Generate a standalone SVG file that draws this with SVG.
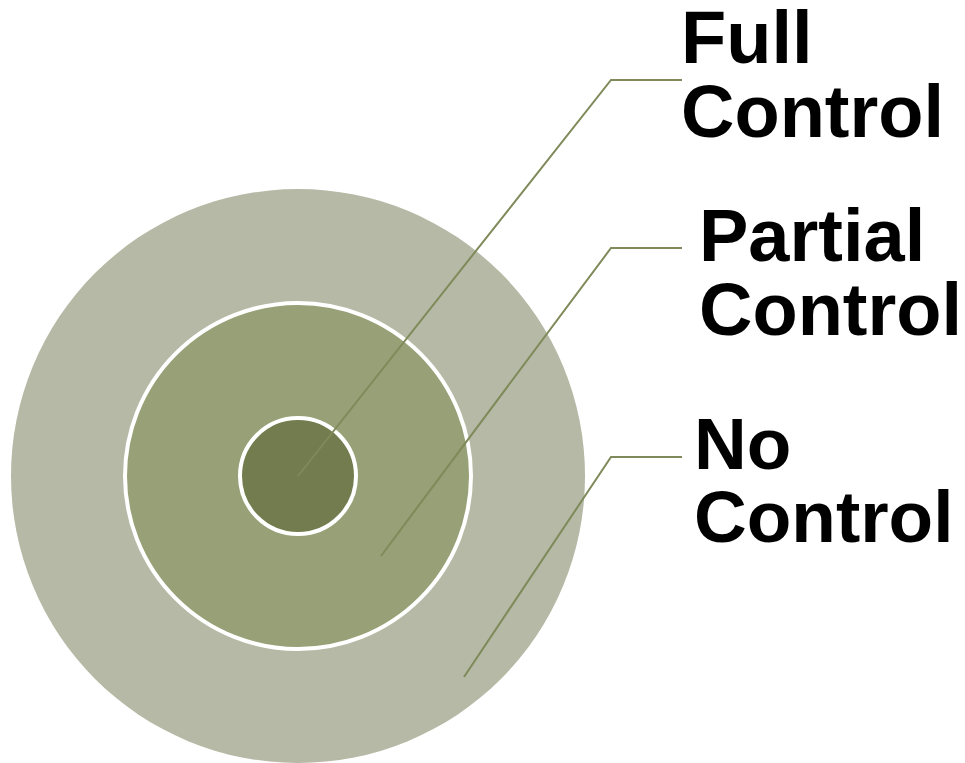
<svg xmlns="http://www.w3.org/2000/svg" width="965" height="763" viewBox="0 0 965 763">
<style>
.lbl{font-family:"Liberation Sans",Arial,sans-serif;font-weight:bold;font-size:74px;fill:#000}
.conn{fill:none;stroke:#7F8A5A;stroke-width:2}
</style>
<rect width="965" height="763" fill="#fff"/>
<g id="outer"><circle cx="298" cy="476" r="287" fill="#B5B9A5"/></g>
<g id="middle"><circle cx="298" cy="476" r="173" fill="#97A076" stroke="#fff" stroke-width="4"/></g>
<g id="inner"><circle cx="298" cy="476" r="58" fill="#737C4E" stroke="#fff" stroke-width="4"/></g>
<g id="connectors">
<polyline class="conn" points="298,476 611,80 682,80"/>
<polyline class="conn" points="381,556 611,248 682,248"/>
<polyline class="conn" points="464,677 611,457 682,457"/>
</g>
<g id="label-full"><text class="lbl" x="681" y="63">Full</text><text class="lbl" x="681" y="137">Control</text></g>
<g id="label-partial"><text class="lbl" x="699" y="261">Partial</text><text class="lbl" x="699" y="335">Control</text></g>
<g id="label-no"><text class="lbl" x="694" y="469" style="font-size:73px">No</text><text class="lbl" x="694" y="542" style="font-size:73px">Control</text></g>
</svg>
